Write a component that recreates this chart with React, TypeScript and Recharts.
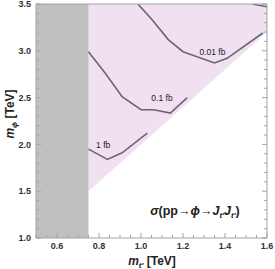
import React from 'react';
import { ComposedChart, Area, Line, XAxis, YAxis, ReferenceDot, Customized } from 'recharts';

// axis ticks
const xLabels = [0.6, 0.8, 1.0, 1.2, 1.4, 1.6];
const yLabels = [1.0, 1.5, 2.0, 2.5, 3.0, 3.5];
const xTicks = Array.from({ length: 23 }, (_, i) => +(0.5 + i * 0.05).toFixed(2));
const yTicks = Array.from({ length: 26 }, (_, i) => +(1.0 + i * 0.1).toFixed(1));

// excluded m_t' band and kinematically allowed region (m_phi > 2 m_t')
const excludedM = [0.5, 0.75];
const allowedM = [0.75, 1.6];
const allowedLow = [1.5, 3.2];

// cross-section contours
const m1fb = [0.75, 0.84, 0.91, 1.03];
const phi1fb = [1.95, 1.84, 1.91, 2.12];
const m01fb = [0.75, 0.83, 0.91, 1.0, 1.06, 1.14, 1.22];
const phi01fb = [2.99, 2.76, 2.51, 2.37, 2.37, 2.335, 2.5];
const m001fb = [0.985, 1.05, 1.13, 1.2, 1.35, 1.41, 1.58];
const phi001fb = [3.5, 3.34, 3.12, 2.99, 2.87, 2.92, 3.19];
const m0001fb = [1.53, 1.6];
const phi0001fb = [3.5, 3.47];

const contourLabels = ['1 fb', '0.1 fb', '0.01 fb'];
const labelM = [0.82, 1.1, 1.34];
const labelPhi = [1.99, 2.5, 2.99];

const toPts = (m: number[], phi: number[]) => m.map((v, i) => ({ m: v, phi: phi[i] }));

const greyData = excludedM.map(m => ({ m, lo: 1.0, hi: 3.5 }));
const pinkData = allowedM.map((m, i) => ({ m, lo: allowedLow[i], hi: 3.5 }));
const contours = [
  toPts(m1fb, phi1fb),
  toPts(m01fb, phi01fb),
  toPts(m001fb, phi001fb),
  toPts(m0001fb, phi0001fb),
];

const FONT = '"Liberation Sans", Arial, sans-serif';
const FRAME = '#a3a3a3';
const LINE = '#6b6577';

const isIn = (arr: number[], v: number) => arr.some(t => Math.abs(t - v) < 1e-6);

const BottomTick = (props: any) => {
  const { x, y, payload } = props;
  const major = isIn(xLabels, payload.value);
  return (
    <g>
      <line x1={x} x2={x} y1={y} y2={y - (major ? 5 : 3)} stroke={FRAME} />
      {major && (
        <text x={x} y={y + 10.5} textAnchor="middle" fontFamily={FONT} fontWeight="bold" fontSize={9} fill="#333">
          {payload.value.toFixed(1)}
        </text>
      )}
    </g>
  );
};

const TopTick = (props: any) => {
  const { x, y, payload } = props;
  const major = isIn(xLabels, payload.value);
  return <line x1={x} x2={x} y1={y} y2={y + (major ? 5 : 3)} stroke={FRAME} />;
};

const LeftTick = (props: any) => {
  const { x, y, payload } = props;
  const major = isIn(yLabels, payload.value);
  return (
    <g>
      <line x1={x} x2={x + (major ? 5 : 3)} y1={y} y2={y} stroke={FRAME} />
      {major && (
        <text x={x - 5} y={y + 3.2} textAnchor="end" fontFamily={FONT} fontWeight="bold" fontSize={9} fill="#333">
          {payload.value.toFixed(1)}
        </text>
      )}
    </g>
  );
};

const RightTick = (props: any) => {
  const { x, y, payload } = props;
  const major = isIn(yLabels, payload.value);
  return <line x1={x} x2={x - (major ? 5 : 3)} y1={y} y2={y} stroke={FRAME} />;
};

const Annotations = () => (
  <g fontFamily={FONT} fontWeight="bold" fill="#222">
    <text x={195} y={215} textAnchor="middle" fontSize={12.5}>
      <tspan fontStyle="italic">σ</tspan>
      <tspan>(pp→</tspan>
      <tspan fontStyle="italic">ϕ</tspan>
      <tspan>→</tspan>
      <tspan fontStyle="italic">J</tspan>
      <tspan fontStyle="italic" fontSize={8} dy={3}>t′</tspan>
      <tspan fontStyle="italic" dy={-3}>J</tspan>
      <tspan fontStyle="italic" fontSize={8} dy={3}>t′</tspan>
      <tspan dy={-3}>)</tspan>
    </text>
    <text x={152} y={265} textAnchor="middle" fontSize={12}>
      <tspan fontStyle="italic">m</tspan>
      <tspan fontStyle="italic" fontSize={8} dy={2.5}>t′</tspan>
      <tspan dy={-2.5}> [TeV]</tspan>
    </text>
    <text x={0} y={0} transform="translate(14 114) rotate(-90)" textAnchor="middle" fontSize={12}>
      <tspan fontStyle="italic">m</tspan>
      <tspan fontStyle="italic" fontSize={8} dy={2.5}>ϕ</tspan>
      <tspan dy={-2.5}> [TeV]</tspan>
    </text>
  </g>
);

export default function App() {
  return (
    <div style={{ position: 'absolute', left: 0, top: 0, width: 275, height: 269, background: '#fff' }}>
      <ComposedChart width={275} height={269} margin={{ top: 0, right: 0, bottom: 0, left: 0 }}>
        <XAxis
          xAxisId="b" dataKey="m" type="number" domain={[0.5, 1.6]} allowDataOverflow
          ticks={xTicks} interval={0} height={31} tickSize={0} tickMargin={0} tickLine={false}
          axisLine={{ stroke: FRAME }} tick={BottomTick}
        />
        <XAxis
          xAxisId="t" orientation="top" type="number" domain={[0.5, 1.6]} allowDataOverflow
          ticks={xTicks} interval={0} height={4} tickSize={0} tickMargin={0} tickLine={false}
          axisLine={{ stroke: FRAME }} tick={TopTick}
        />
        <YAxis
          yAxisId="l" type="number" domain={[1.0, 3.5]} allowDataOverflow
          ticks={yTicks} interval={0} width={36} tickSize={0} tickMargin={0} tickLine={false}
          axisLine={{ stroke: FRAME }} tick={LeftTick}
        />
        <YAxis
          yAxisId="r" orientation="right" type="number" domain={[1.0, 3.5]} allowDataOverflow
          ticks={yTicks} interval={0} width={8} tickSize={0} tickMargin={0} tickLine={false}
          axisLine={{ stroke: FRAME }} tick={RightTick}
        />
        <Area
          xAxisId="b" yAxisId="l" data={pinkData} dataKey={(d: any) => [d.lo, d.hi]}
          type="linear" stroke="none" fill="#f0e0f0" fillOpacity={1} isAnimationActive={false}
        />
        <Area
          xAxisId="b" yAxisId="l" data={greyData} dataKey={(d: any) => [d.lo, d.hi]}
          type="linear" stroke="none" fill="#c0c0c0" fillOpacity={1} isAnimationActive={false}
        />
        {contours.map((pts, i) => (
          <Line
            key={i} xAxisId="b" yAxisId="l" data={pts} dataKey="phi" type="linear"
            stroke={LINE} strokeWidth={1.6} dot={false} activeDot={false} isAnimationActive={false}
          />
        ))}
        {contourLabels.map((txt, i) => (
          <ReferenceDot
            key={txt} xAxisId="b" yAxisId="l" x={labelM[i]} y={labelPhi[i]} r={0}
            fill="none" stroke="none"
            label={{ value: txt, position: 'center', fontSize: 8.5, fill: '#222', fontFamily: FONT }}
          />
        ))}
        <Customized component={<Annotations />} />
      </ComposedChart>
    </div>
  );
}
